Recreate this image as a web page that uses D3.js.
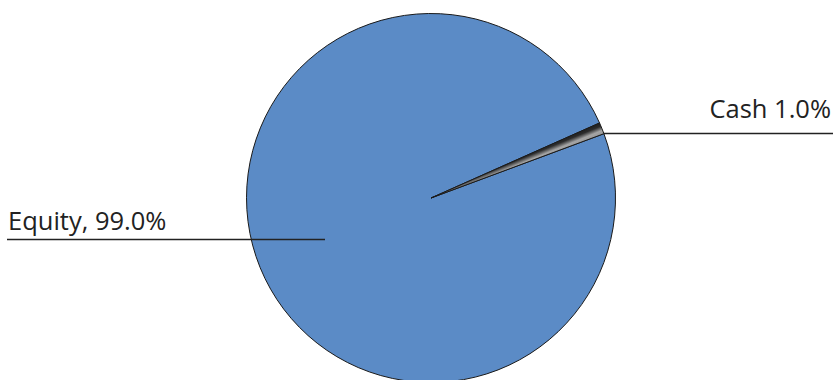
<!DOCTYPE html>
<html><head><meta charset="utf-8">
<script src="https://cdn.jsdelivr.net/npm/d3@7"></script>
<style>html,body{margin:0;padding:0;background:#fff;}svg{display:block;}</style>
</head><body>
<svg id="c" width="833" height="380"></svg>
<script>
const categories = ["Equity", "Cash"];
const values = [99.0, 1.0];
const labels = ["Equity, 99.0%", "Cash 1.0%"];

const svg = d3.select("#c");
const cx = 431, cy = 198, r = 184.5;
const deg = Math.PI / 180;
const startA = 69.6 * deg;

const colors = d3.scaleOrdinal().domain(categories).range(["#5b8bc6", "url(#cashG)"]);
const pie = d3.pie().sort(null).startAngle(startA).endAngle(startA + 2 * Math.PI);
const arcs = pie(values);
const arc = d3.arc().innerRadius(0).outerRadius(r);

// gradient across the cash slice (perpendicular to its bisector)
const c = arcs[1];
const a0 = c.startAngle, a1 = c.endAngle;
const defs = svg.append("defs");
const grad = defs.append("linearGradient").attr("id", "cashG")
  .attr("gradientUnits", "userSpaceOnUse")
  .attr("x1", r * Math.sin(a0)).attr("y1", -r * Math.cos(a0))
  .attr("x2", r * Math.sin(a1)).attr("y2", -r * Math.cos(a1));
[["0%", "#1e1e1e"], ["30%", "#2c2c2c"], ["50%", "#6a6a6a"], ["68%", "#a4a4a4"], ["100%", "#9a9a9a"]]
  .forEach(([o, col]) => grad.append("stop").attr("offset", o).attr("stop-color", col));

const g = svg.append("g").attr("transform", `translate(${cx},${cy})`);
g.selectAll("path").data(arcs).join("path")
  .attr("d", arc)
  .attr("fill", (d, i) => colors(categories[i]))
  .attr("stroke", "#1a1a1a")
  .attr("stroke-width", 1)
  .attr("stroke-linejoin", "round");

const font = "'Open Sans', sans-serif";
// Equity
svg.append("line").attr("x1", 7).attr("x2", 325).attr("y1", 239.5).attr("y2", 239.5)
  .attr("stroke", "#222").attr("stroke-width", 1.3);
svg.append("text").attr("x", 8).attr("y", 230).text(labels[0])
  .attr("font-family", font).attr("font-size", 25.5).attr("fill", "#222");
// Cash: line starts at slice's outer corner
const ex = cx + r * Math.sin(a1);
svg.append("line").attr("x1", ex).attr("x2", 833).attr("y1", 133.5).attr("y2", 133.5)
  .attr("stroke", "#222").attr("stroke-width", 1.3);
svg.append("text").attr("x", 831).attr("y", 118).attr("text-anchor", "end").text(labels[1])
  .attr("font-family", font).attr("font-size", 25.5).attr("fill", "#222");
</script>
</body></html>
